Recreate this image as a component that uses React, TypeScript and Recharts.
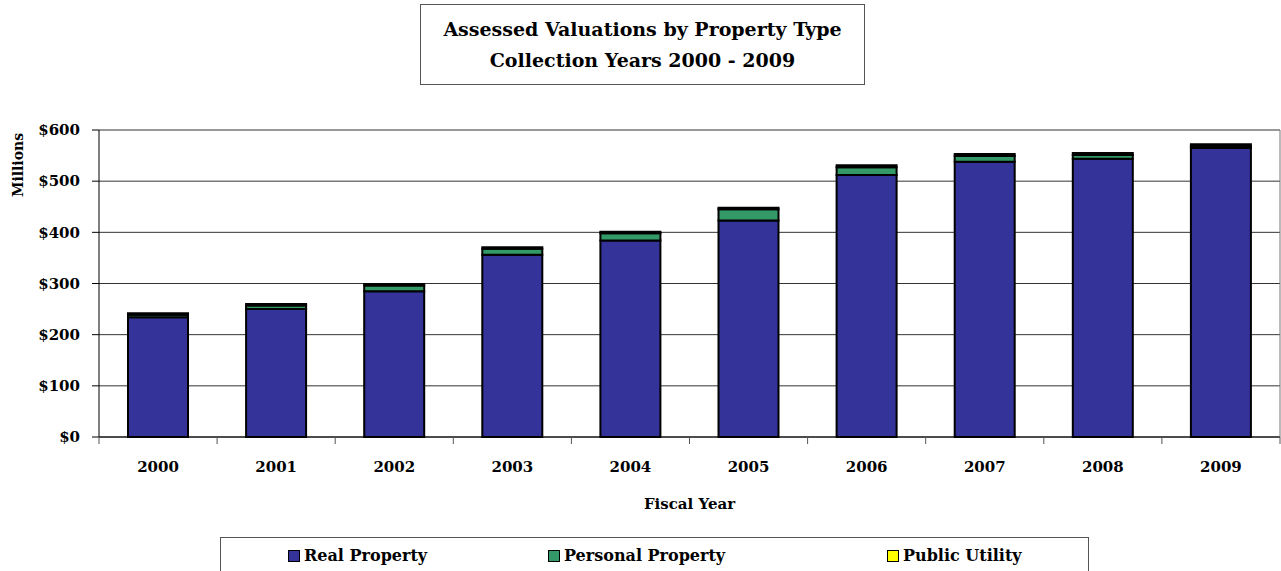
import React from "react";
import { BarChart, Bar, XAxis, YAxis, CartesianGrid } from "recharts";

const years = ["2000", "2001", "2002", "2003", "2004", "2005", "2006", "2007", "2008", "2009"];
const realProperty = [234, 250, 285, 356, 384, 423, 512, 538, 544, 565];
const personalProperty = [5, 7, 11, 12, 14, 22, 15, 11, 7, 3];
const publicUtility = [3, 3, 3, 3, 3, 3, 4, 4, 4, 4];
const yTicks = [0, 100, 200, 300, 400, 500, 600];

const chartData = years.map((year, i) => ({
  year,
  real: realProperty[i],
  personal: personalProperty[i],
  utility: publicUtility[i],
}));

const FONT = "'DejaVu Serif', serif";

const legendItems = [
  { name: "Real Property", color: "#333399", left: 67 },
  { name: "Personal Property", color: "#339966", left: 327 },
  { name: "Public Utility", color: "#FFFF00", left: 666 },
];

const YearTick = (props: any) => {
  const { x, y, payload, index } = props;
  const half = payload.offset ?? 0;
  return (
    <g>
      <line x1={x - half} x2={x - half} y1={y} y2={y + 7} stroke="#555" />
      {index === years.length - 1 && (
        <line x1={x + half} x2={x + half} y1={y} y2={y + 7} stroke="#555" />
      )}
      <text x={x} y={y + 35} textAnchor="middle" fontFamily={FONT} fontWeight="bold" fontSize={15} fill="#000">
        {payload.value}
      </text>
    </g>
  );
};

export default function App() {
  return (
    <div style={{ position: "absolute", left: 0, top: 0, width: 1281, height: 571, background: "#fff", overflow: "hidden" }}>
      <div
        style={{
          position: "absolute",
          left: 420,
          top: 4,
          width: 445,
          height: 81,
          border: "1px solid #555",
          fontFamily: FONT,
          fontWeight: "bold",
          fontSize: 19,
          textAlign: "center",
          lineHeight: "31px",
          paddingTop: 9,
          boxSizing: "border-box",
        }}
      >
        Assessed Valuations by Property Type
        <br />
        Collection Years 2000 - 2009
      </div>

      <BarChart
        width={1281}
        height={571}
        data={chartData}
        margin={{ top: 130, right: 0, left: 0, bottom: 74 }}
        barSize={60}
      >
        <CartesianGrid vertical={false} stroke="#333" />
        <XAxis
          dataKey="year"
          height={60}
          tickSize={0}
          tickMargin={0}
          axisLine={{ stroke: "#000" }}
          tick={<YearTick />}
          interval={0}
          label={(p: any) => {
            const vb = p.viewBox;
            return (
              <text
                x={vb.x + vb.width / 2}
                y={509}
                textAnchor="middle"
                fontFamily={FONT}
                fontWeight="bold"
                fontSize={15}
              >
                Fiscal Year
              </text>
            );
          }}
        />
        <YAxis
          width={99}
          domain={[0, 600]}
          ticks={yTicks}
          tickFormatter={(v) => `$${v}`}
          tickSize={7}
          tickMargin={12}
          axisLine={{ stroke: "#000" }}
          tickLine={{ stroke: "#000" }}
          tick={{ fontFamily: FONT, fontWeight: "bold", fontSize: 15, fill: "#000" }}
          label={() => (
            <text
              x={23}
              y={165}
              transform="rotate(-90 23 165)"
              textAnchor="middle"
              fontFamily={FONT}
              fontWeight="bold"
              fontSize={14}
            >
              Millions
            </text>
          )}
        />
        <YAxis
          yAxisId="right"
          orientation="right"
          width={1}
          tick={false}
          tickLine={false}
          axisLine={{ stroke: "#777" }}
        />
        <Bar dataKey="real" name="Real Property" stackId="a" fill="#333399" stroke="#000" strokeWidth={2} isAnimationActive={false} />
        <Bar dataKey="personal" name="Personal Property" stackId="a" fill="#339966" stroke="#000" strokeWidth={2} isAnimationActive={false} />
        <Bar dataKey="utility" name="Public Utility" stackId="a" fill="#FFFF00" stroke="#000" strokeWidth={2} isAnimationActive={false} />
      </BarChart>

      <div
        style={{
          position: "absolute",
          left: 220,
          top: 537,
          width: 869,
          height: 50,
          border: "1px solid #555",
          boxSizing: "border-box",
          fontFamily: FONT,
          fontWeight: "bold",
          fontSize: 16,
        }}
      >
        {legendItems.map((item) => (
          <div
            key={item.name}
            style={{ position: "absolute", left: item.left, top: 8, display: "flex", alignItems: "center", whiteSpace: "nowrap" }}
          >
            <span
              style={{
                display: "inline-block",
                width: 10,
                height: 10,
                background: item.color,
                border: "1.5px solid #000",
                marginRight: 4,
              }}
            />
            <span>{item.name}</span>
          </div>
        ))}
      </div>
    </div>
  );
}
